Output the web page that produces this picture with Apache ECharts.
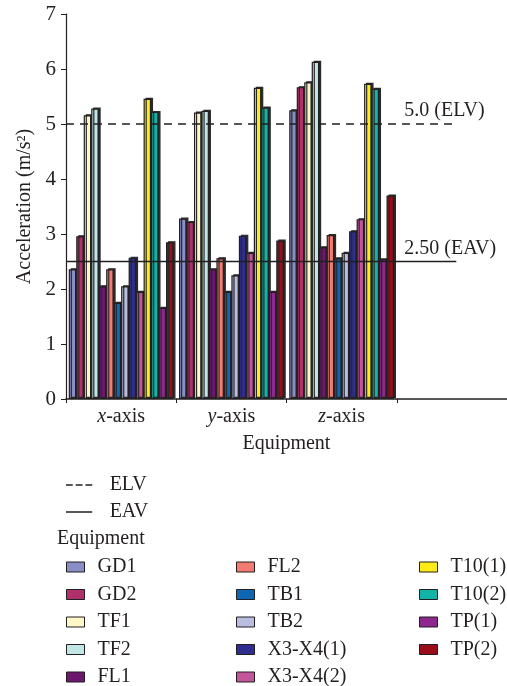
<!DOCTYPE html>
<html>
<head>
<meta charset="utf-8">
<script src="https://cdn.jsdelivr.net/npm/echarts@6/dist/echarts.min.js"></script>
<style>
  html, body { margin: 0; padding: 0; background: #fff; }
  #chart { width: 507px; height: 686px; }
</style>
</head>
<body>
<div id="chart"></div>
<script>
// Axis groups (the fourth slot is left empty on purpose)
const categories = ['x-axis', 'y-axis', 'z-axis', ''];

// Vibration acceleration per equipment, m/s², for x / y / z axes
const GD1 = [2.36, 3.28, 5.25];
const GD2 = [2.96, 3.22, 5.67];
const TF1 = [5.16, 5.21, 5.76];
const TF2 = [5.28, 5.24, 6.13];
const FL1 = [2.05, 2.36, 2.76];
const FL2 = [2.36, 2.56, 2.98];
const TB1 = [1.75, 1.95, 2.56];
const TB2 = [2.05, 2.25, 2.66];
const X3X4_1 = [2.57, 2.97, 3.05];
const X3X4_2 = [1.95, 2.66, 3.27];
const T10_1 = [5.46, 5.66, 5.73];
const T10_2 = [5.22, 5.30, 5.64];
const TP_1 = [1.66, 1.95, 2.54];
const TP_2 = [2.85, 2.88, 3.70];

// Exposure limit / action values
const ELV = 5.0;
const EAV = 2.5;

const yTicks = [0, 1, 2, 3, 4, 5, 6, 7];

const equipment = [
  { name: 'GD1', data: GD1, color: '#8a8dc6' },
  { name: 'GD2', data: GD2, color: '#b0306a' },
  { name: 'TF1', data: TF1, color: '#fff8c6' },
  { name: 'TF2', data: TF2, color: '#c0e6e6' },
  { name: 'FL1', data: FL1, color: '#6d176f' },
  { name: 'FL2', data: FL2, color: '#f47b72' },
  { name: 'TB1', data: TB1, color: '#0f66b2' },
  { name: 'TB2', data: TB2, color: '#b9bde0' },
  { name: 'X3-X4(1)', data: X3X4_1, color: '#2e2e8f' },
  { name: 'X3-X4(2)', data: X3X4_2, color: '#c4549c' },
  { name: 'T10(1)', data: T10_1, color: '#ffec17' },
  { name: 'T10(2)', data: T10_2, color: '#11b4a7' },
  { name: 'TP(1)', data: TP_1, color: '#8d288e' },
  { name: 'TP(2)', data: TP_2, color: '#990d1b' }
];

const serif = '"Liberation Serif", "DejaVu Serif", serif';
const ink = '#231f20';
const fs = 20;

const barSeries = equipment.map(e => ({
  name: e.name,
  type: 'bar',
  xAxisIndex: 0,
  yAxisIndex: 0,
  data: e.data,
  barGap: '0%',
  barCategoryGap: '5%',
  itemStyle: {
    color: e.color,
    borderColor: ink,
    borderWidth: 1.2,
    shadowColor: '#2a2a2a',
    shadowBlur: 0,
    shadowOffsetX: 2,
    shadowOffsetY: -1
  },
  emphasis: { disabled: true }
}));

// Reference lines run on a hidden value axis spanning the four slots
const lineEnd = 3.54;
function refLine(name, value, text, dashed) {
  return {
    name: name,
    type: 'line',
    xAxisIndex: 1,
    yAxisIndex: 0,
    symbol: 'circle',
    symbolSize: 0,
    showSymbol: true,
    silent: true,
    z: 5,
    lineStyle: { color: ink, width: 1.3, type: dashed ? [8, 6] : 'solid' },
    itemStyle: { color: ink },
    data: [
      [0, value],
      {
        value: [lineEnd, value],
        label: {
          show: true,
          position: 'top',
          align: 'left',
          distance: 3,
          offset: [-52, 0],
          formatter: text,
          fontFamily: serif,
          fontSize: fs,
          color: ink
        }
      }
    ]
  };
}

const legendItem = (names, left) => ({
  orient: 'vertical',
  left: left,
  top: 557,
  height: 200,
  padding: 0,
  data: names,
  icon: 'rect',
  itemWidth: 18,
  itemHeight: 10,
  itemGap: 7.5,
  selectedMode: false,
  itemStyle: { borderColor: ink, borderWidth: 1, shadowBlur: 0, shadowOffsetX: 0, shadowOffsetY: 0 },
  textStyle: { fontFamily: serif, fontSize: fs, color: ink, lineHeight: 18, padding: [0, 0, 0, 8] }
});

const names = equipment.map(e => e.name);

const option = {
  animation: false,
  backgroundColor: '#fff',
  title: {
    text: 'Equipment',
    left: 57,
    top: 529,
    padding: 0,
    textStyle: { fontFamily: serif, fontSize: fs, fontWeight: 'normal', color: ink }
  },
  grid: { left: 66, right: -4, top: 14, bottom: 287, containLabel: false },
  legend: [
    {
      orient: 'vertical',
      left: 66,
      top: 475,
      height: 80,
      padding: 0,
      data: [
        { name: 'ELV', icon: 'path://M0,0h9v2h-9z M13,0h9v2h-9z M26,0h9v2h-9z' },
        { name: 'EAV', icon: 'path://M0,0h35v2h-35z' }
      ],
      itemWidth: 35,
      itemHeight: 1.5,
      itemGap: 7,
      selectedMode: false,
      itemStyle: { color: ink },
      textStyle: { fontFamily: serif, fontSize: fs, color: ink, lineHeight: 18, padding: [0, 0, 0, 8] }
    },
    legendItem(names.slice(0, 5), 66),
    legendItem(names.slice(5, 10), 236),
    legendItem(names.slice(10, 14), 419)
  ],
  xAxis: [
    {
      type: 'category',
      data: categories,
      name: 'Equipment',
      nameLocation: 'middle',
      nameGap: 35,
      nameTextStyle: { fontFamily: serif, fontSize: fs, color: ink },
      axisLine: { lineStyle: { color: ink, width: 1.5 } },
      axisTick: { show: true, length: 4, lineStyle: { color: ink } },
      axisLabel: {
        margin: 8,
        fontFamily: serif,
        fontSize: fs,
        color: ink,
        formatter: v => v ? '{i|' + v[0] + '}' + v.slice(1) : '',
        rich: { i: { fontStyle: 'italic', fontFamily: serif, fontSize: fs, color: ink } }
      },
      splitLine: { show: false }
    },
    {
      type: 'value',
      min: 0,
      max: 4,
      show: false
    }
  ],
  yAxis: {
    type: 'value',
    min: yTicks[0],
    max: yTicks[yTicks.length - 1],
    interval: 1,
    name: 'Acceleration (m/s²)',
    nameLocation: 'middle',
    nameGap: 22,
    nameTextStyle: { fontFamily: serif, fontSize: fs, color: ink },
    axisLine: { show: true, lineStyle: { color: ink, width: 1.2 } },
    axisTick: { show: true, length: 5, lineStyle: { color: ink } },
    axisLabel: { fontFamily: serif, fontSize: 21, color: ink, margin: 10 },
    splitLine: { show: false }
  },
  series: [
    refLine('ELV', ELV, '5.0 (ELV)', true),
    refLine('EAV', EAV, '2.50 (EAV)', false)
  ].concat(barSeries)
};

const chart = echarts.init(document.getElementById('chart'), null, { renderer: 'canvas' });
chart.setOption(option);
</script>
</body>
</html>
